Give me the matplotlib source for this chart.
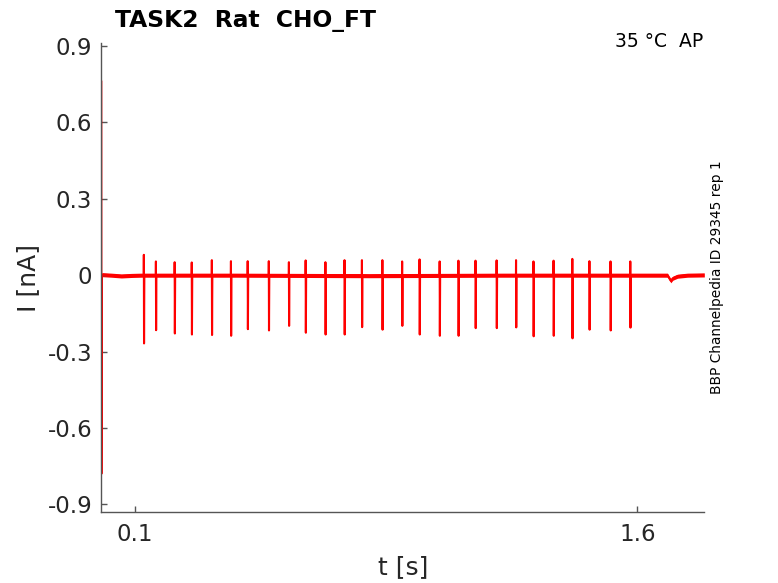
import numpy as np
from matplotlib import pyplot as plt

plt.rcParams['axes.unicode_minus'] = False

# start-up transient at t = 0
transient_t = [0.0, 0.0004, 0.0015]
transient_i = [0.76, -0.78, 0.002]

# slow baseline (nA)
base_t = [0.003, 0.03, 0.06, 0.09, 0.12, 0.40, 0.80, 1.20, 1.60, 1.69, 1.70, 1.706, 1.72, 1.75, 1.80]
base_i = [0.002, 0.0, -0.003, -0.001, 0.0, 0.0, -0.002, 0.0, 0.0, 0.0, -0.022, -0.012, -0.004, 0.0, 0.001]

# spikes: time (s), positive peak, negative peak (nA)
spike_t = [0.127, 0.163, 0.219, 0.270, 0.330, 0.387, 0.437, 0.500, 0.560, 0.610,
           0.669, 0.726, 0.778, 0.839, 0.898, 0.950, 1.010, 1.066, 1.117, 1.180,
           1.238, 1.290, 1.350, 1.406, 1.457, 1.520, 1.579]
spike_up = [0.080, 0.054, 0.051, 0.050, 0.059, 0.055, 0.055, 0.055, 0.051, 0.058,
            0.051, 0.059, 0.059, 0.059, 0.054, 0.062, 0.054, 0.057, 0.057, 0.058,
            0.059, 0.054, 0.057, 0.064, 0.055, 0.054, 0.054]
spike_down = [-0.268, -0.216, -0.229, -0.233, -0.235, -0.238, -0.212, -0.217, -0.199, -0.226,
              -0.233, -0.233, -0.204, -0.214, -0.199, -0.233, -0.238, -0.238, -0.208, -0.208,
              -0.205, -0.240, -0.238, -0.248, -0.214, -0.217, -0.206]

xticks = [0.1, 1.6]
yticks = [-0.9, -0.6, -0.3, 0, 0.3, 0.6, 0.9]
ytick_labels = ['-0.9', '-0.6', '-0.3', '0', '0.3', '0.6', '0.9']

# assemble trace
t = list(transient_t) + list(base_t)
i = list(transient_i) + list(base_i)
for st, up, dn in zip(spike_t, spike_up, spike_down):
    t += [st - 0.0003, st, st + 0.0006, st + 0.0015]
    i += [0.0, up, dn, 0.0]
order = np.argsort(t)
t = np.array(t)[order]
i = np.array(i)[order]

red = '#ff0000'
grey = '#555555'

fig = plt.figure(figsize=(7.78, 5.83), dpi=100)
ax = fig.add_axes([0.1302, 0.1218, 0.7751, 0.8039])

# noise band of the baseline
noise = 0.008
bt = np.array(base_t)
bi = np.array(base_i)
ax.fill_between(bt, bi - noise, bi + noise, color=red, linewidth=0)
ax.plot(t, i, color=red, linewidth=1.5)

ax.set_xlim(0, 1.8)
ax.set_ylim(-0.930, 0.9106)
ax.set_xticks(xticks)
ax.set_xticklabels(['0.1', '1.6'])
ax.set_yticks(yticks)
ax.set_yticklabels(ytick_labels)

for side in ['top', 'right']:
    ax.spines[side].set_visible(False)
for side in ['left', 'bottom']:
    ax.spines[side].set_color(grey)
    ax.spines[side].set_linewidth(1.0)

ax.tick_params(direction='in', length=4.5, width=1.0, color=grey,
               labelsize=16.5, labelcolor='#262626')
ax.tick_params(axis='x', pad=8)
ax.tick_params(axis='y', pad=6.5)

ax.set_xlabel('t [s]', fontsize=18, color='#262626')
ax.set_ylabel('I [nA]', fontsize=18, color='#262626')
ax.xaxis.set_label_coords(0.5, -0.0917)
ax.yaxis.set_label_coords(-0.1017, 0.5)

fig.text(115 / 778, 1 - 26.7 / 583, 'TASK2  Rat  CHO_FT', fontsize=16.8,
         fontweight='bold', ha='left', va='baseline')
fig.text(703 / 778, 1 - 47.3 / 583, '35 °C  AP', fontsize=13.5,
         ha='right', va='baseline')
fig.text(717 / 778, 1 - 277.5 / 583, 'BBP Channelpedia ID 29345 rep 1',
         fontsize=9.9, rotation=90, ha='center', va='center')

fig.savefig('out.png', dpi=100)
